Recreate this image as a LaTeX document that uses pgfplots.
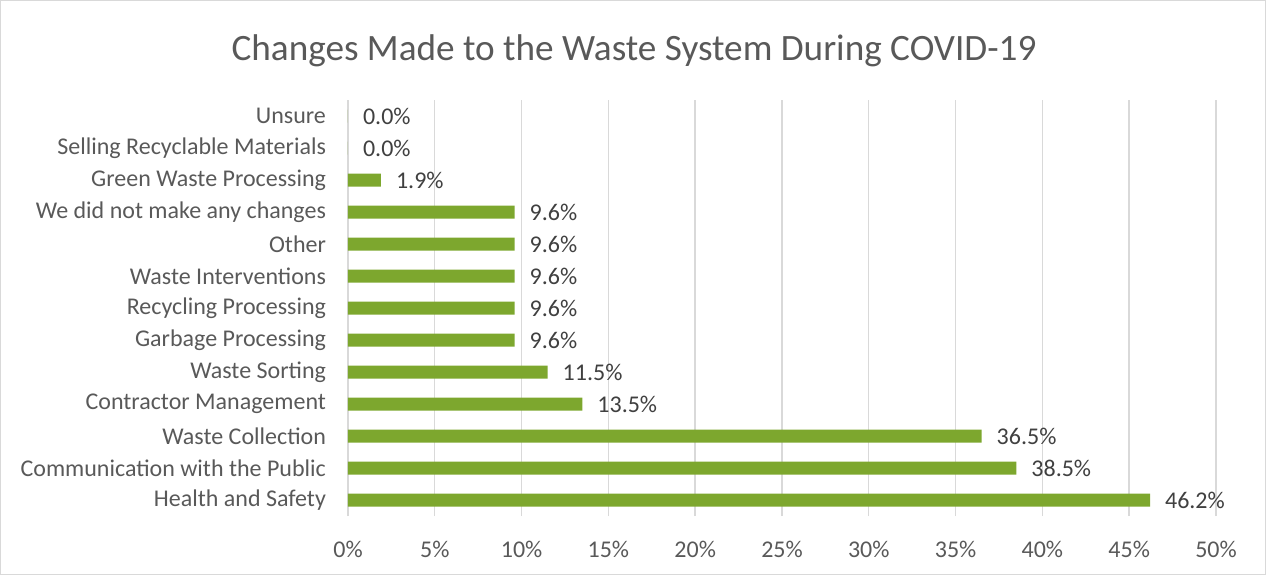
\documentclass[border=0pt]{standalone}
\usepackage{fontspec}
\setmainfont{Carlito}
\usepackage{pgfplots}
\pgfplotsset{compat=1.18}
\definecolor{bargreen}{HTML}{7DA72E}
\definecolor{gridgray}{HTML}{D9D9D9}
\definecolor{txtgray}{HTML}{595959}
\definecolor{lblgray}{HTML}{404040}
\begin{document}
\begin{tikzpicture}[x=1pt,y=1pt]
% chart area (1 px = 0.5 pt)
\draw[gridgray,line width=0.6pt] (0.3,0.3) rectangle (632.7,287.2);
\node[text=txtgray,font=\fontsize{18.6}{22}\selectfont] at (317,262) {Changes Made to the Waste System During COVID-19};
\begin{axis}[
  at={(174pt,29.5pt)}, anchor=south west,
  scale only axis, width=434pt, height=208pt,
  xbar, bar width=6.5pt,
  xmin=0, xmax=50, ymin=-0.5, ymax=12.5,
  xtick={0,5,...,50},
  xticklabels={0\%,5\%,10\%,15\%,20\%,25\%,30\%,35\%,40\%,45\%,50\%},
  ytick={0,...,12},
  yticklabels={Health and Safety,Communication with the Public,Waste Collection,Contractor Management,Waste Sorting,Garbage Processing,Recycling Processing,Waste Interventions,Other,We did not make any changes,Green Waste Processing,Selling Recyclable Materials,Unsure},
  axis line style={draw=none},
  major tick length=0pt,
  xmajorgrids, grid style={gridgray,line width=0.7pt},
  tick label style={text=txtgray,font=\fontsize{12}{14}\selectfont},
  xticklabel style={yshift=-9pt},
  yticklabel style={xshift=-7.5pt},
  /pgf/number format/assume math mode=true,
  nodes near coords={\pgfmathprintnumber[fixed,fixed zerofill,precision=1]{\pgfplotspointmeta}\%},
  nodes near coords style={text=lblgray,font=\fontsize{12}{14}\selectfont,anchor=west,xshift=4pt},
]
\addplot[fill=bargreen,draw=none] coordinates {
  (46.2,0) (38.5,1) (36.5,2) (13.5,3) (11.5,4) (9.6,5) (9.6,6)
  (9.6,7) (9.6,8) (9.6,9) (1.9,10) (0.0,11) (0.0,12)
};
\end{axis}
\end{tikzpicture}
\end{document}
